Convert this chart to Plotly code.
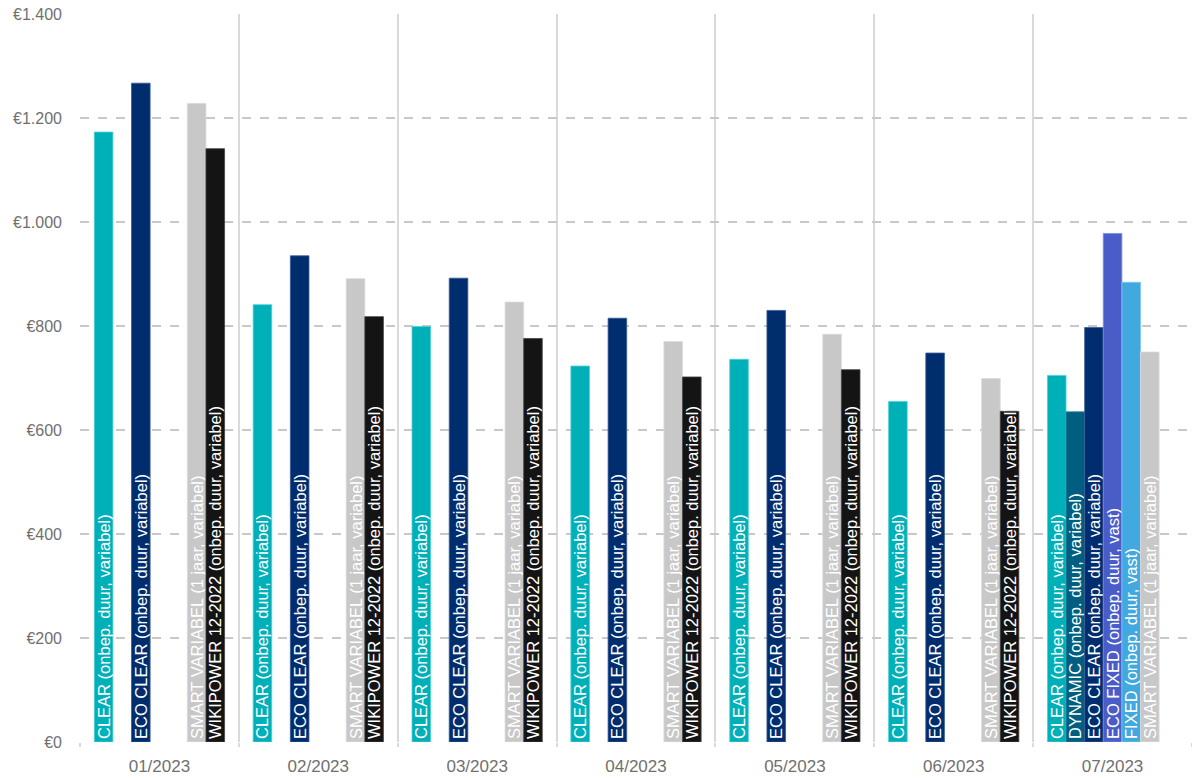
import plotly.graph_objects as go

months = ["01/2023", "02/2023", "03/2023", "04/2023", "05/2023", "06/2023", "07/2023"]

series_names = [
    "CLEAR (onbep. duur, variabel)",
    "DYNAMIC (onbep. duur, variabel)",
    "ECO CLEAR (onbep. duur, variabel)",
    "ECO FIXED (onbep. duur, vast)",
    "FIXED (onbep. duur, vast)",
    "SMART VARIABEL (1 jaar, variabel)",
    "WIKIPOWER 12-2022 (onbep. duur, variabel)",
]

clear = [1173, 841, 799, 723, 736, 655, 705]
dynamic = [None, None, None, None, None, None, 635]
eco_clear = [1267, 935, 892, 815, 830, 748, 797]
eco_fixed = [None, None, None, None, None, None, 978]
fixed = [None, None, None, None, None, None, 884]
smart_variabel = [1228, 891, 846, 770, 784, 699, 750]
wikipower = [1141, 818, 776, 702, 716, 636, None]

series_values = [clear, dynamic, eco_clear, eco_fixed, fixed, smart_variabel, wikipower]
colors = ["#00B0B9", "#005F80", "#002D6E", "#4A5CC8", "#42A8E0", "#C8C8C8", "#141414"]
edge_colors = ["#4FD0D6", "#2F83A0", "#3A5A95", "#7B8BE0", "#7CC6EE", "#DADADA", "#444444"]

y_ticks = [0, 200, 400, 600, 800, 1000, 1200, 1400]
y_ticktext = ["€0", "€200", "€400", "€600", "€800", "€1.000", "€1.200", "€1.400"]

fig = go.Figure()
for name, vals, col, ecol in zip(series_names, series_values, colors, edge_colors):
    fig.add_trace(go.Bar(
        x=months,
        y=vals,
        name=name,
        text=[name if v is not None else "" for v in vals],
        textposition="inside",
        insidetextanchor="start",
        textangle=-90,
        constraintext="none",
        textfont=dict(color="white", size=16.5, family="Liberation Sans"),
        marker=dict(color=col, line=dict(color=ecol, width=0.8)),
        hoverinfo="x+y+name",
    ))

fig.update_layout(
    width=1192,
    height=778,
    barmode="group",
    bargap=0.18,
    bargroupgap=0,
    plot_bgcolor="white",
    paper_bgcolor="white",
    showlegend=False,
    margin=dict(l=80, r=0, t=14, b=36),
    font=dict(family="Liberation Sans", size=16, color="#707070"),
)

fig.update_xaxes(
    type="category",
    tickson="boundaries",
    showgrid=True,
    gridcolor="#D9D9D9",
    gridwidth=2,
    ticks="outside",
    ticklen=4,
    tickcolor="#D9D9D9",
    tickwidth=2,
    showline=False,
    ticklabelstandoff=12,
    tickfont=dict(size=17, color="#707070"),
)

fig.update_yaxes(
    range=[0, 1400],
    tickvals=y_ticks,
    ticktext=y_ticktext,
    showgrid=True,
    gridcolor="#C8C8C8",
    gridwidth=1.5,
    griddash="dash",
    zeroline=False,
    showline=False,
    ticks="",
    ticklabelstandoff=17,
    tickfont=dict(size=16, color="#707070"),
)

fig.write_html(
    "out.html",
    config={"displayModeBar": False},
    post_script="document.body.style.margin='0';",
)
